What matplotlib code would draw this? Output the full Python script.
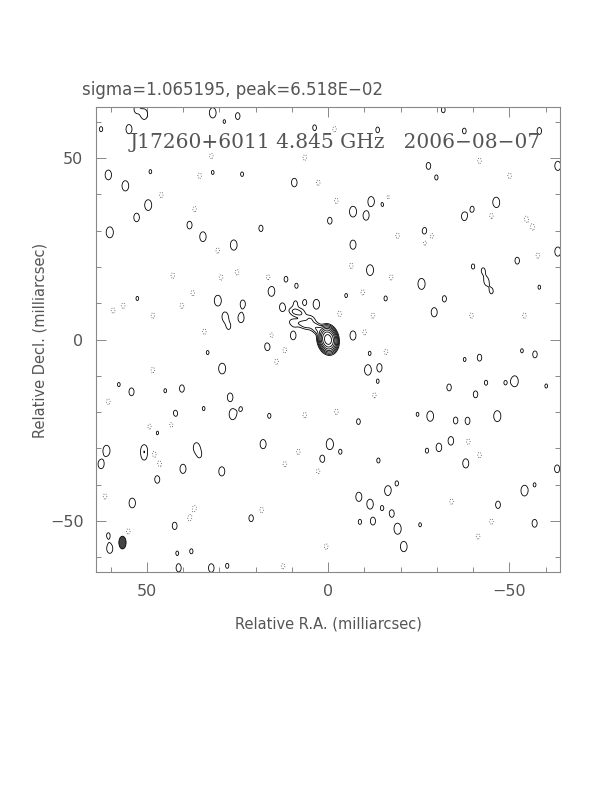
import numpy as np
import matplotlib
matplotlib.use("Agg")
import matplotlib.pyplot as plt
from matplotlib.patches import Ellipse
from matplotlib.ticker import MultipleLocator

# ---------------- text ----------------
header_text = "sigma=1.065195, peak=6.518E\u221202"
source_text = "J17260+6011 4.845 GHz   2006\u221208\u221207"
xlabel_text = "Relative R.A. (milliarcsec)"
ylabel_text = "Relative Decl. (milliarcsec)"

# ---------------- map extent / levels ----------------
map_half = 64.0                       # mas
pos_levels = [1, 2, 4, 8, 16, 32, 64, 128]   # in units of lowest contour
neg_levels = [-1]

# ---------------- core + jet components (RA, Dec in mas; amp in lowest-contour units) ----
core_ra, core_dec, core_amp = 0.0, 0.0, 210.0
core_sig_maj, core_sig_min, core_pa = 1.35, 0.95, 10.0

jet_ra = [2.6, 4.9, 5.9, 7.7, 9.5, 9.5, 3.6, 7.2]
jet_dec = [2.6, 5.6, 4.0, 7.3, 7.6, 4.6, 3.6, 4.4]
jet_amp = [3.0, 1.9, 2.1, 1.9, 1.7, 1.7, 2.1, 1.6]

# ---------------- positive noise islands ----------------
pos_ra = [52.8, 50.7, 24.9, 31.8, 54.9, 62.6, 60.6, 55.9, 49.6, 52.8,
          60.2, 38.2, 34.5, 26.0, 30.4, 23.5, 28.4, 24.0, 27.4, 49.0,
          31.8, 23.7, 28.6, 52.6, 3.7, -13.7, 9.3, -11.9, -15.1, -6.9,
          -10.5, -0.5, 18.5, -6.9, -11.6, 11.6, 8.7, 15.6, 3.2, 6.4,
          9.0, 12.6, -15.9, -5.0, 9.6, -6.9, -31.8, -37.6, -58.3, -27.7,
          -29.9, -63.4, -46.4, -39.8, -37.6, -26.7, -63.4, -52.2, -40.0, -42.8,
          -43.7, -25.8, -45.1, -58.3, -32.1, -29.3, 33.2, 29.2, 54.2, 44.9,
          40.3, 57.7, 27.0, 26.3, 42.1, 34.3, 24.0, 47.1, 61.1, 50.7,
          50.7, 36.3, 35.4, 62.6, 40.0, 29.3, 47.1, 54.0, 21.2, 42.3,
          60.6, 60.2, 41.6, 37.7, 41.2, 32.2, 27.8, 16.7, -11.0, -14.2,
          -11.5, -13.7, 16.2, -8.4, 17.9, -0.5, -3.4, 1.6, -13.9, -19.0,
          -16.5, -8.5, -11.6, -14.9, -17.6, -8.8, -12.4, -19.2, -20.9, -53.5,
          -57.1, -41.8, -37.7, -51.5, -43.6, -48.9, -33.4, -40.7, -60.2, -28.2,
          -24.7, -46.7, -35.2, -38.5, -33.9, -30.6, -27.3, -38.0, -63.2, -54.2,
          -57.0, -46.9, -57.0, -25.4]
pos_dec = [63.4, 62.0, 61.5, 62.4, 57.9, 57.9, 45.3, 42.3, 37.0, 33.6,
           29.5, 31.5, 28.3, 26.0, 10.7, 9.8, 6.3, 5.9, 3.6, 46.2,
           46.0, 45.5, 60.0, 11.3, 58.3, 57.7, 43.2, 38.0, 37.3, 35.2,
           34.1, 32.7, 30.6, 26.1, 19.1, 16.6, 14.8, 13.3, 9.7, 10.2,
           9.9, 8.9, 11.3, 12.1, 1.1, 1.1, 63.2, 57.4, 57.4, 47.8,
           44.6, 47.8, 37.7, 35.9, 33.9, 29.7, 24.2, 21.7, 20.1, 19.0,
           16.0, 15.3, 13.3, 14.4, 11.2, 7.5, -3.6, -8.0, -14.4, -14.1,
           -13.5, -12.4, -15.9, -20.6, -20.4, -19.0, -19.1, -25.7, -30.6, -30.2,
           -32.2, -29.7, -31.8, -34.3, -35.6, -36.3, -38.5, -45.0, -49.2, -51.3,
           -53.9, -57.6, -58.8, -58.3, -62.9, -62.9, -62.3, -1.9, -8.4, -7.7,
           -3.8, -11.6, -21.0, -22.6, -28.8, -28.8, -30.9, -32.9, -33.3, -39.6,
           -41.6, -43.3, -45.3, -46.4, -47.9, -50.2, -50.0, -52.1, -57.0, -3.1,
           -4.1, -5.0, -5.5, -11.5, -11.9, -11.9, -13.2, -15.1, -12.8, -21.1,
           -20.6, -21.1, -22.3, -22.4, -27.9, -29.7, -30.6, -34.1, -35.6, -41.6,
           -40.0, -45.5, -50.6, -51.0]
pos_amp = [1.4, 1.8, 1.3, 1.8, 1.6, 1.15, 1.7, 1.8, 1.9, 1.5,
           1.95, 1.4, 1.7, 1.8, 1.9, 1.4, 1.6, 1.6, 1.2, 1.1,
           1.1, 1.12, 1.08, 1.1, 1.2, 1.2, 1.5, 1.7, 1.2, 1.9,
           1.6, 1.3, 1.25, 1.6, 1.9, 1.2, 1.15, 1.8, 1.7, 1.2,
           1.15, 1.5, 1.15, 1.1, 1.5, 1.6, 1.2, 1.2, 1.3, 1.3,
           1.15, 1.6, 1.9, 1.2, 1.5, 1.5, 1.6, 1.3, 1.15, 1.15,
           1.3, 1.95, 1.15, 1.1, 1.25, 1.6, 1.1, 1.9, 1.4, 1.1,
           1.35, 1.1, 1.5, 1.9, 1.3, 1.1, 1.1, 1.1, 1.9, 1.5,
           1.2, 1.6, 1.1, 1.6, 1.6, 1.6, 1.4, 1.7, 1.3, 1.35,
           1.15, 1.6, 1.1, 1.15, 1.4, 1.5, 1.15, 1.5, 1.8, 1.4,
           1.1, 1.1, 1.15, 1.2, 1.6, 1.95, 1.15, 1.4, 1.15, 1.15,
           1.7, 1.6, 1.7, 1.15, 1.35, 1.15, 1.4, 1.95, 1.8, 1.1,
           1.3, 1.3, 1.1, 1.95, 1.15, 1.1, 1.3, 1.3, 1.1, 1.8,
           1.1, 1.95, 1.3, 1.35, 1.5, 1.5, 1.15, 1.6, 1.4, 1.9,
           1.1, 1.35, 1.4, 1.1]

# ---------------- negative noise islands ----------------
neg_ra = [32.2, 35.4, 46.0, 36.8, 30.4, 42.8, 29.5, 25.1, 37.3, 56.5,
          59.3, 40.3, 48.3, 34.1, -1.8, 6.4, 2.7, -16.5, -2.3, -19.2,
          -6.4, 16.5, -17.4, -9.6, -3.2, -12.4, -10.1, 15.6, -54.7, -56.5,
          -28.6, -26.7, -57.9, -50.1, -41.8, -39.6, -54.2, -45.1, 60.6, 48.3,
          49.2, 43.2, 46.4, 61.5, 36.8, 38.2, 55.1, 48.0, 11.9, 14.2,
          -12.8, -2.3, 6.4, 8.2, 11.9, 2.7, 18.3, 0.5, 12.4, -16.0,
          -38.7, -41.8, -41.4, -45.1, -34.1]
neg_dec = [50.5, 45.1, 39.8, 35.9, 24.5, 17.6, 17.1, 18.5, 12.8, 9.3,
           8.0, 9.3, 6.6, 2.2, 57.9, 50.1, 43.2, 39.1, 38.2, 28.6,
           20.3, 17.1, 17.1, 13.0, 7.1, 6.6, 2.0, 1.1, 33.2, 30.9,
           28.6, 26.7, 23.1, 45.1, 49.2, 6.6, 6.6, 34.1, -17.1, -8.4,
           -24.0, -23.4, -34.3, -43.2, -46.4, -49.2, -52.8, -31.5, -2.9, -6.1,
           -15.3, -19.9, -20.8, -30.9, -34.3, -36.2, -46.9, -57.0, -62.4, -3.4,
           -28.1, -31.8, -54.2, -50.1, -44.6]
neg_amp = [-1.18] * len(neg_ra)

# noise island shape (restoring-beam like gaussian, sigma in mas)
noise_sig_maj, noise_sig_min, noise_pa = 1.3, 0.85, 0.0

# restoring beam (FWHM, mas)
beam_ra, beam_dec = 56.7, -55.9
beam_major, beam_minor, beam_pa = 3.5, 2.0, 0.0

# ---------------- build model image ----------------
step = 0.125
grid = np.arange(-map_half - 2, map_half + 2 + step / 2, step)
X, Y = np.meshgrid(grid, grid)
Z = np.zeros_like(X)


def add_component(ra, dec, amp, smaj, smin, pa_deg):
    half = 6.0 * smaj
    i0 = max(0, int((ra - half - grid[0]) / step))
    i1 = min(len(grid), int((ra + half - grid[0]) / step) + 1)
    j0 = max(0, int((dec - half - grid[0]) / step))
    j1 = min(len(grid), int((dec + half - grid[0]) / step) + 1)
    dx = X[j0:j1, i0:i1] - ra
    dy = Y[j0:j1, i0:i1] - dec
    t = np.deg2rad(pa_deg)
    u = dx * np.sin(t) + dy * np.cos(t)
    v = dx * np.cos(t) - dy * np.sin(t)
    Z[j0:j1, i0:i1] += amp * np.exp(-0.5 * (u ** 2 / smaj ** 2 + v ** 2 / smin ** 2))


add_component(core_ra, core_dec, core_amp, core_sig_maj, core_sig_min, core_pa)
for r, d, a in zip(jet_ra, jet_dec, jet_amp):
    add_component(r, d, a, 1.1, 0.8, 65.0)
for r, d, a in zip(pos_ra, pos_dec, pos_amp):
    add_component(r, d, a, noise_sig_maj, noise_sig_min, noise_pa)
for r, d, a in zip(neg_ra, neg_dec, neg_amp):
    add_component(r, d, a, noise_sig_maj, noise_sig_min, noise_pa)

# ---------------- figure ----------------
fig = plt.figure(figsize=(6.12, 7.92), dpi=100)
ax = fig.add_axes([96 / 612, 1 - 572 / 792, 464 / 612, 465 / 792])

ax.contour(X, Y, Z, levels=pos_levels, colors="black", linewidths=0.6)
ax.contour(X, Y, Z, levels=neg_levels, colors="#444444", linewidths=0.6,
           linestyles=[(0, (1, 2))])

ax.add_patch(Ellipse((beam_ra, beam_dec), beam_minor, beam_major, angle=-beam_pa,
                     facecolor="#444444", edgecolor="black", linewidth=0.6))

ax.set_xlim(map_half, -map_half)
ax.set_ylim(-map_half, map_half)

frame_col = "#888888"
text_col = "#555555"
for s in ax.spines.values():
    s.set_color(frame_col)
    s.set_linewidth(0.8)
ax.xaxis.set_major_locator(MultipleLocator(50))
ax.xaxis.set_minor_locator(MultipleLocator(10))
ax.yaxis.set_major_locator(MultipleLocator(50))
ax.yaxis.set_minor_locator(MultipleLocator(10))
ax.tick_params(which="both", direction="in", top=True, right=True,
               color=frame_col, width=0.7, labelcolor=text_col, labelsize=11.5)
ax.tick_params(which="major", length=7, pad=9)
ax.tick_params(which="minor", length=3.5)

ax.text(0.515, 0.923, source_text, transform=ax.transAxes, ha="center", va="center",
        fontsize=14.5, family="DejaVu Serif", color=text_col)

fig.text(82 / 612, 1 - 90 / 792, header_text, ha="left", va="center",
         fontsize=12, color=text_col)
fig.text(328 / 612, 1 - 624 / 792, xlabel_text, ha="center", va="center",
         fontsize=10.5, color=text_col)
fig.text(40 / 612, 1 - 340 / 792, ylabel_text, ha="center", va="center",
         rotation=90, fontsize=10.5, color=text_col)

fig.savefig("out.png", dpi=100)
